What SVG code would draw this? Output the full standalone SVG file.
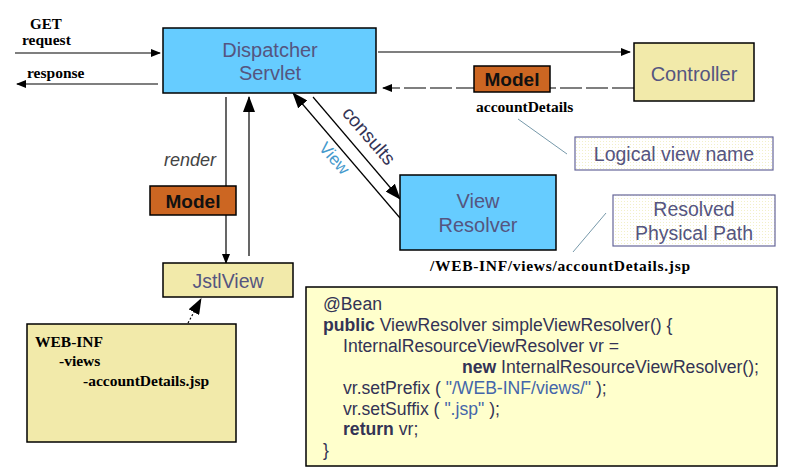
<svg xmlns="http://www.w3.org/2000/svg" width="790" height="470" viewBox="0 0 790 470">
<defs>
<marker id="ah" markerWidth="10" markerHeight="8" refX="9" refY="4" orient="auto" markerUnits="userSpaceOnUse"><path d="M0,0 L10,4 L0,8 z" fill="#000"/></marker>
<marker id="ahb" markerWidth="16" markerHeight="12" refX="15" refY="6" orient="auto" markerUnits="userSpaceOnUse"><path d="M0,0 L16,6 L0,12 z" fill="#000"/></marker>
<pattern id="dots" width="3" height="3" patternUnits="userSpaceOnUse"><rect width="3" height="3" fill="#ffffff"/><rect width="1" height="1" fill="#f2f0c8"/></pattern>
</defs>
<style>
.blue{fill:#66ccff;stroke:#000;stroke-width:1.5}
.khaki{fill:#f2eaaa;stroke:#000;stroke-width:1.5}
.model{fill:#cc6622;stroke:#000;stroke-width:1.5}
.note{fill:url(#dots);stroke:#666699;stroke-width:1.2}
.lbl{font-family:"Liberation Sans",Arial,sans-serif;fill:#555580;text-anchor:middle}
.ser{font-family:"Liberation Serif","Times New Roman",serif;font-weight:bold;fill:#000}
.mdl{font-family:"Liberation Sans",Arial,sans-serif;font-weight:bold;font-size:19px;fill:#111;text-anchor:middle}
.code{font-family:"Liberation Sans",Arial,sans-serif;font-size:17.6px;fill:#333355}
.str{fill:#4466aa}
.kw{font-weight:bold}
.ln{stroke:#000;stroke-width:1.2;fill:none}
.lead{stroke:#7799aa;stroke-width:1;fill:none}
</style>
<rect width="790" height="470" fill="#fff"/>

<g id="connectors">
<line class="ln" x1="15" y1="53" x2="160" y2="53" marker-end="url(#ah)"/>
<line class="ln" x1="158" y1="84" x2="17" y2="84" marker-end="url(#ah)"/>
<line class="ln" x1="378" y1="52" x2="630" y2="52" marker-end="url(#ah)"/>
<line class="ln" x1="634" y1="88" x2="383" y2="88" stroke-dasharray="22,4" marker-end="url(#ah)"/>
<line class="ln" x1="313" y1="97" x2="400" y2="199" marker-end="url(#ahb)"/>
<line class="ln" x1="400" y1="218" x2="293" y2="93" marker-end="url(#ahb)"/>
<line class="ln" x1="226" y1="97" x2="226" y2="263" marker-end="url(#ah)"/>
<line class="ln" x1="249" y1="256" x2="249" y2="97" marker-end="url(#ahb)"/>
<line class="ln" x1="188" y1="323" x2="201" y2="299" stroke-dasharray="2,2" marker-end="url(#ahb)"/>
<line class="lead" x1="518" y1="119" x2="567" y2="154"/>
<line class="lead" x1="606" y1="213" x2="573" y2="252"/>
</g>

<g id="labels">
<text class="ser" x="30" y="29" font-size="15">GET</text>
<text class="ser" x="22" y="45" font-size="15.5">request</text>
<text class="ser" x="27" y="78" font-size="15.5">response</text>
<text class="ser" x="476" y="112" font-size="15.5">accountDetails</text>
<text class="ser" x="430" y="271" font-size="15.5" textLength="260" lengthAdjust="spacing">/WEB-INF/views/accountDetails.jsp</text>
<text x="190" y="166" font-family="Liberation Sans,Arial,sans-serif" font-style="italic" font-size="18" fill="#444" text-anchor="middle">render</text>
<text transform="translate(364,140) rotate(49)" font-family="Liberation Sans,Arial,sans-serif" font-size="19" fill="#333355" text-anchor="middle">consults</text>
<text transform="translate(330,162) rotate(49)" font-family="Liberation Sans,Arial,sans-serif" font-size="17" fill="#4499cc" text-anchor="middle">View</text>
</g>

<g id="dispatcher">
<rect class="blue" x="163" y="28" width="213" height="65"/>
<text class="lbl" x="270" y="57" font-size="20">Dispatcher</text>
<text class="lbl" x="270" y="80" font-size="20">Servlet</text>
</g>

<g id="controller">
<rect class="khaki" x="634" y="43" width="120" height="58"/>
<text class="lbl" x="694" y="81" font-size="20">Controller</text>
</g>

<g id="model-top">
<rect class="model" x="474" y="66" width="76" height="26"/>
<text class="mdl" x="512" y="86">Model</text>
</g>

<g id="logical">
<rect class="note" x="575" y="137" width="198" height="33"/>
<text class="lbl" x="674" y="161" font-size="19.5" fill="#444477">Logical view name</text>
</g>

<g id="viewresolver">
<rect class="blue" x="400" y="175" width="156" height="75"/>
<text class="lbl" x="478" y="208" font-size="20">View</text>
<text class="lbl" x="478" y="232" font-size="20">Resolver</text>
</g>

<g id="resolved">
<rect class="note" x="613" y="195" width="162" height="51"/>
<text class="lbl" x="694" y="216" font-size="19.5" fill="#444477">Resolved</text>
<text class="lbl" x="694" y="240" font-size="19.5" fill="#444477">Physical Path</text>
</g>

<g id="model-left">
<rect class="model" x="150" y="186" width="86" height="29"/>
<text class="mdl" x="193" y="208">Model</text>
</g>

<g id="jstlview">
<rect class="khaki" x="163" y="263" width="130" height="34"/>
<text class="lbl" x="228" y="288" font-size="19.5">JstlView</text>
</g>

<g id="webinf">
<rect class="khaki" x="27" y="324" width="209" height="118"/>
<text class="ser" x="35" y="347" font-size="15.5">WEB-INF</text>
<text class="ser" x="59" y="366" font-size="15.5">-views</text>
<text class="ser" x="83" y="386" font-size="15.5">-accountDetails.jsp</text>
</g>

<g id="code">
<rect x="306" y="287" width="471" height="179" fill="#ffffcc" stroke="#000" stroke-width="1.5"/>
<text class="code" x="323" y="310">@Bean</text>
<text class="code" x="323" y="331"><tspan class="kw">public</tspan> ViewResolver simpleViewResolver() {</text>
<text class="code" x="343" y="352">InternalResourceViewResolver vr =</text>
<text class="code" x="462" y="373"><tspan class="kw">new</tspan> InternalResourceViewResolver();</text>
<text class="code" x="343" y="394">vr.setPrefix ( <tspan class="str">"/WEB-INF/views/"</tspan> );</text>
<text class="code" x="343" y="415">vr.setSuffix ( <tspan class="str">".jsp"</tspan> );</text>
<text class="code" x="343" y="435"><tspan class="kw">return</tspan> vr;</text>
<text class="code" x="323" y="456">}</text>
</g>
</svg>
